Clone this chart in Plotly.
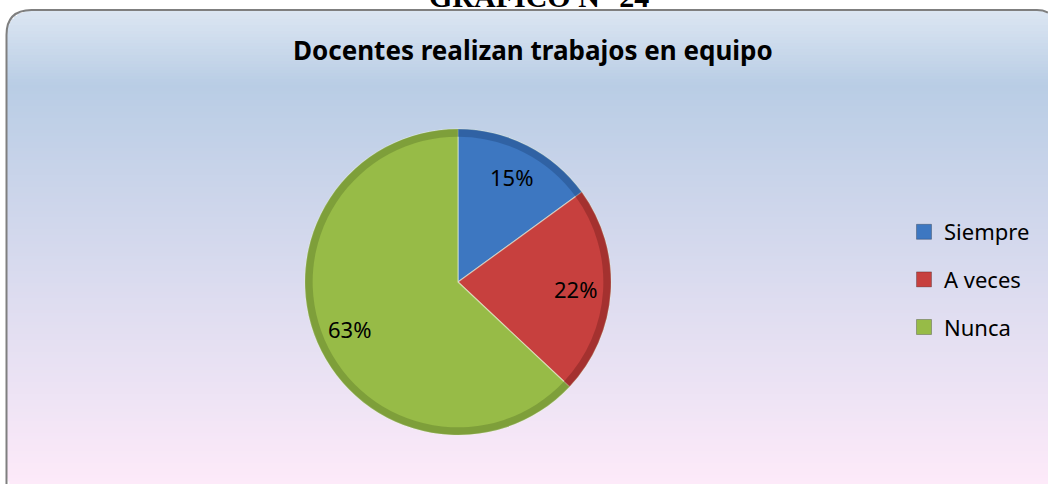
import math
import plotly.graph_objects as go

# ---- data ----
categories = ["Siempre", "A veces", "Nunca"]
values = [15, 22, 63]
slice_colors = ["#3d77c1", "#c7403e", "#97bb47"]
rim_colors = ["rgba(40,85,145,0.6)", "rgba(140,40,38,0.6)", "rgba(110,140,50,0.6)"]
title_text = "Docentes realizan trabajos en equipo"
header_text = "GRÁFICO N° 24"

W, H = 1048, 484
CX, CY, R = 458, 282, 153
pie_domain = dict(x=[(CX - R) / W, (CX + R) / W],
                  y=[(H - CY - R) / H, (H - CY + R) / H])

fig = go.Figure()

fig.add_trace(go.Pie(
    labels=categories,
    values=values,
    sort=False,
    direction="clockwise",
    rotation=0,
    marker=dict(colors=slice_colors, line=dict(color="rgba(235,245,220,0.55)", width=1.2)),
    textinfo="none",
    domain=pie_domain,
    showlegend=False,
    hoverinfo="label+percent",
))

# subtle darker rim (bevel look) on the same slices
fig.add_trace(go.Pie(
    labels=categories,
    values=values,
    sort=False,
    direction="clockwise",
    rotation=0,
    hole=0.95,
    marker=dict(colors=rim_colors, line=dict(width=0)),
    textinfo="none",
    domain=pie_domain,
    showlegend=False,
    hoverinfo="skip",
))

# legend entries
for i, (cat, col) in enumerate(zip(categories, slice_colors)):
    fig.add_trace(go.Scatter(
        x=[None], y=[None], mode="markers", name=cat,
        legendgroup=f"g{i}",
        marker=dict(symbol="square", size=15, color=col,
                    line=dict(color="rgba(0,0,0,0.25)", width=1)),
    ))

# percentage labels placed on each slice bisector (computed from the values)
total = sum(values)
label_anns = []
cum = 0.0
for v in values:
    mid = (cum + v / 2) / total * 2 * math.pi
    cum += v
    px = CX + 0.77 * R * math.sin(mid)
    py = CY - 0.77 * R * math.cos(mid)
    label_anns.append(dict(text=f"{round(v / total * 100)}%", x=px / W, y=1 - py / H,
                           xref="paper", yref="paper", xanchor="center", yanchor="middle",
                           showarrow=False,
                           font=dict(family="Noto Sans", size=22, color="#000000")))

# ---- background: gradient inside rounded frame ----
x0, x1, y0, y1, rad = 6.5, 1062, 10, 496, 25

def lerp(c1, c2, t):
    return tuple(round(a + (b - a) * t) for a, b in zip(c1, c2))

stops = [(10, (0xdc, 0xe6, 0xf2)), (85, (0xb9, 0xcd, 0xe5)), (484, (0xfd, 0xea, 0xf9))]

def color_at(y):
    for (ya, ca), (yb, cb) in zip(stops[:-1], stops[1:]):
        if y <= yb:
            t = (y - ya) / (yb - ya)
            return "rgb(%d,%d,%d)" % lerp(ca, cb, max(0, min(1, t)))
    return "rgb(%d,%d,%d)" % stops[-1][1]

shapes = []
step = 3
y = y0
while y < min(y1, H + 2):
    yb = min(y + step, y1)
    ym = (y + yb) / 2
    inset = 0.0
    if ym < y0 + rad:
        d = y0 + rad - ym
        inset = rad - (rad ** 2 - d ** 2) ** 0.5
    elif ym > y1 - rad:
        d = ym - (y1 - rad)
        inset = rad - (rad ** 2 - min(d, rad) ** 2) ** 0.5
    xa = x0 + inset
    xb = min(x1 - inset, W)
    shapes.append(dict(type="rect", xref="paper", yref="paper", layer="below",
                       x0=xa / W, x1=xb / W, y0=max(0, 1 - (yb + 0.6) / H), y1=1 - y / H,
                       fillcolor=color_at(ym), line=dict(width=0)))
    y = yb

# visible part of the rounded border, clipped at the right window edge
ex = W - (x1 - rad)
ey = y0 + rad - (rad ** 2 - ex ** 2) ** 0.5
path_px = (f"M {x0} {H + 2} L {x0} {y0 + rad} Q {x0} {y0} {x0 + rad} {y0} "
           f"L {x1 - rad} {y0} Q {x1 - rad + ex * 0.55} {y0} {W} {ey:.2f}")

def to_paper_path(p):
    toks = p.split()
    out = []
    i = 0
    while i < len(toks):
        t = toks[i]
        if t.isalpha():
            out.append(t)
            i += 1
        else:
            xv = float(toks[i]) / W
            yv = 1 - float(toks[i + 1]) / H
            out.append(f"{xv:.5f},{yv:.5f}")
            i += 2
    return " ".join(out)

shapes.append(dict(type="path", xref="paper", yref="paper", layer="below",
                   path=to_paper_path(path_px), line=dict(color="#7f7f7f", width=2)))

fig.update_layout(
    width=W, height=H,
    margin=dict(l=0, r=0, t=0, b=0),
    paper_bgcolor="#ffffff",
    plot_bgcolor="rgba(0,0,0,0)",
    shapes=shapes,
    xaxis=dict(visible=False),
    yaxis=dict(visible=False),
    showlegend=True,
    legend=dict(x=904 / W, y=1 - 211 / H, xanchor="left", yanchor="top",
                bgcolor="rgba(0,0,0,0)", tracegroupgap=16,
                font=dict(family="Noto Sans", size=22, color="#000000"),
                itemclick=False, itemdoubleclick=False),
    annotations=label_anns + [
        dict(text=f"<b>{title_text}</b>", x=533 / W, y=1 - 50 / H, xref="paper", yref="paper",
             xanchor="center", yanchor="middle", showarrow=False,
             font=dict(family="Noto Sans", size=26, color="#000000")),
        dict(text=f"<b>{header_text}</b>", x=539 / W, y=1 - 15 / H, xref="paper", yref="paper",
             xanchor="center", yanchor="bottom", showarrow=False,
             font=dict(family="Liberation Serif", size=30, color="#000000")),
    ],
)

fig.write_html(
    "out.html", config={"displayModeBar": False},
    post_script=("document.body.style.margin='0';"
                 "document.body.style.overflow='hidden';"
                 "document.documentElement.style.overflow='hidden';"),
)
